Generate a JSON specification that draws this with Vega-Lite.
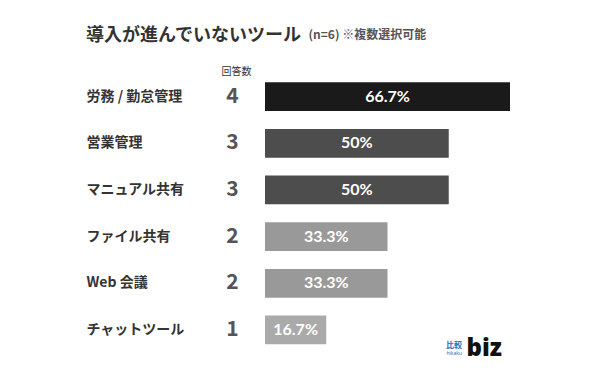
{
  "$schema": "https://vega.github.io/schema/vega-lite/v6.json",
  "autosize": "none",
  "padding": {"left": 265, "top": 73.3, "right": 80, "bottom": 26.7},
  "width": 245,
  "height": 280,
  "background": "#ffffff",
  "config": {"view": {"stroke": null}, "font": "Noto Sans CJK JP"},
  "title": {
    "text": "導入が進んでいないツール",
    "anchor": "start",
    "frame": "group",
    "dx": -179,
    "offset": -30,
    "baseline": "alphabetic",
    "fontSize": 18,
    "fontWeight": "bold",
    "color": "#333333",
    "font": "Noto Sans CJK JP"
  },
  "data": {
    "values": [
      {"tool": "労務 / 勤怠管理", "count": 4, "pct": "66.7%"},
      {"tool": "営業管理", "count": 3, "pct": "50%"},
      {"tool": "マニュアル共有", "count": 3, "pct": "50%"},
      {"tool": "ファイル共有", "count": 2, "pct": "33.3%"},
      {"tool": "Web 会議", "count": 2, "pct": "33.3%"},
      {"tool": "チャットツール", "count": 1, "pct": "16.7%"}
    ]
  },
  "encoding": {
    "y": {
      "field": "tool",
      "type": "nominal",
      "sort": null,
      "scale": {"paddingInner": 0.385, "paddingOuter": 0.1925},
      "axis": {
        "title": "回答数",
        "titleAngle": 0,
        "titleX": -29,
        "titleY": -2,
        "titleAlign": "center",
        "titleBaseline": "middle",
        "titleFontSize": 10,
        "titleFontWeight": "normal",
        "titleColor": "#333333",
        "titleFont": "Noto Sans CJK JP",
        "labelAlign": "left",
        "labelPadding": 179,
        "labelFontSize": 14,
        "labelFontWeight": "bold",
        "labelColor": "#333333",
        "labelFont": "Noto Sans CJK JP",
        "domain": false,
        "ticks": false,
        "grid": false
      }
    }
  },
  "layer": [
    {
      "mark": {"type": "bar"},
      "encoding": {
        "x": {
          "field": "count",
          "type": "quantitative",
          "scale": {"domain": [0, 4], "nice": false},
          "axis": {
            "orient": "top",
            "labels": false,
            "ticks": false,
            "domain": false,
            "grid": false,
            "title": "(n=6) ※複数選択可能",
            "titleX": 43,
            "titleY": -34.5,
            "titleAlign": "left",
            "titleBaseline": "alphabetic",
            "titleFontSize": 12,
            "titleFontWeight": "bold",
            "titleColor": "#555555",
            "titleFont": "Noto Sans CJK JP"
          }
        },
        "color": {
          "field": "count",
          "type": "ordinal",
          "scale": {"domain": [1, 2, 3, 4], "range": ["#aaaaaa", "#999999", "#4d4d4d", "#1a1a1a"]},
          "legend": null
        }
      }
    },
    {
      "mark": {"type": "text", "dx": -32.5, "align": "center", "baseline": "middle", "fontSize": 21, "fontWeight": "bold", "color": "#555555", "font": "Noto Sans CJK JP"},
      "encoding": {
        "x": {"datum": 0, "type": "quantitative", "scale": {"domain": [0, 4], "nice": false}, "axis": null},
        "text": {"field": "count", "type": "quantitative"}
      }
    },
    {
      "mark": {"type": "text", "align": "center", "baseline": "middle", "fontSize": 16, "fontWeight": "bold", "color": "#ffffff", "font": "Lato"},
      "encoding": {
        "x": {"field": "count", "type": "quantitative", "scale": {"domain": [0, 8], "nice": false}, "axis": null},
        "text": {"field": "pct", "type": "nominal"}
      }
    },
    {
      "data": {"values": [{"t": "biz", "tool": "チャットツール"}]},
      "mark": {"type": "text", "align": "right", "baseline": "alphabetic", "dx": -8, "dy": 26, "fontSize": 24, "fontWeight": 900, "color": "#111111", "font": "Noto Sans"},
      "encoding": {
        "x": {"datum": 4, "type": "quantitative", "scale": {"domain": [0, 4], "nice": false}, "axis": null},
        "y": {"field": "tool", "type": "nominal"},
        "text": {"field": "t"}
      }
    },
    {
      "data": {"values": [{"t": "比較", "tool": "チャットツール"}]},
      "mark": {"type": "text", "align": "right", "baseline": "alphabetic", "dx": -48, "dy": 18.5, "fontSize": 8, "fontWeight": "bold", "color": "#1f6fbf", "font": "Noto Sans CJK JP"},
      "encoding": {
        "x": {"datum": 4, "type": "quantitative", "scale": {"domain": [0, 4], "nice": false}, "axis": null},
        "y": {"field": "tool", "type": "nominal"},
        "text": {"field": "t"}
      }
    },
    {
      "data": {"values": [{"t": "hikaku", "tool": "チャットツール"}]},
      "mark": {"type": "text", "align": "right", "baseline": "alphabetic", "dx": -48, "dy": 25, "fontSize": 5, "color": "#1f6fbf", "font": "Noto Sans"},
      "encoding": {
        "x": {"datum": 4, "type": "quantitative", "scale": {"domain": [0, 4], "nice": false}, "axis": null},
        "y": {"field": "tool", "type": "nominal"},
        "text": {"field": "t"}
      }
    }
  ],
  "resolve": {"scale": {"x": "independent"}}
}
